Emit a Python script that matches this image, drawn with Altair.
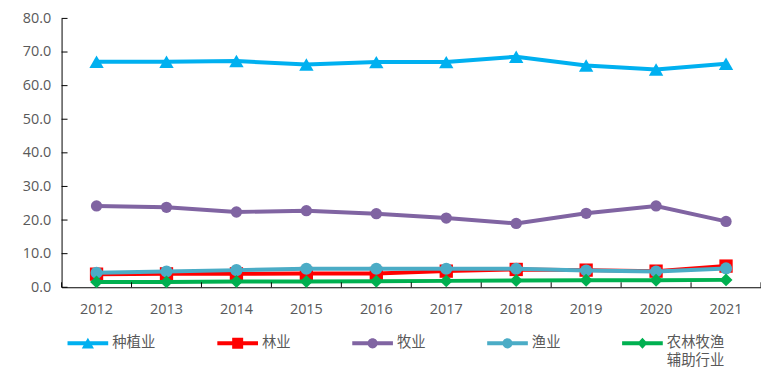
import altair as alt
import pandas as pd

years = ["2012", "2013", "2014", "2015", "2016", "2017", "2018", "2019", "2020", "2021"]
series = ["种植业", "林业", "牧业", "渔业", "农林牧渔辅助行业"]
colors = ["#00B0F0", "#FF0000", "#8064A2", "#4BACC6", "#00B050"]
shapes = ["triangle-up", "square", "circle", "circle", "diamond"]
sizes = [210, 180, 130, 150, 170]

planting = [67.1, 67.1, 67.3, 66.3, 67.0, 67.0, 68.6, 66.0, 64.8, 66.5]
forestry = [3.9, 4.0, 4.0, 4.1, 4.1, 4.8, 5.3, 5.1, 4.8, 6.3]
livestock = [24.2, 23.8, 22.4, 22.8, 21.9, 20.6, 19.0, 22.0, 24.2, 19.6]
fishery = [4.3, 4.7, 5.1, 5.5, 5.5, 5.5, 5.5, 5.0, 4.7, 5.6]
service = [1.6, 1.6, 1.7, 1.7, 1.8, 1.9, 2.0, 2.1, 2.1, 2.2]

y_ticks = [0, 10, 20, 30, 40, 50, 60, 70, 80]

values = [planting, forestry, livestock, fishery, service]
rows = []
for s, vals in zip(series, values):
    for y, v in zip(years, vals):
        rows.append({"year": y, "series": s, "value": v})
df = pd.DataFrame(rows)

W, H = 705, 271
FONT = "Open Sans"
CJK = "Noto Sans CJK SC"
GRAY = "#595959"

legend_paths = {
    "种植业": "M-1,-0.1H1V0.1H-1Z M-0.3,0.25L0,-0.27L0.3,0.25Z",
    "林业": "M-1,-0.1H1V0.1H-1Z M-0.27,-0.27H0.27V0.27H-0.27Z",
    "牧业": "M-1,-0.1H1V0.1H-1Z M-0.25,0A0.25,0.25 0 1,1 0.25,0A0.25,0.25 0 1,1 -0.25,0Z",
    "渔业": "M-1,-0.1H1V0.1H-1Z M-0.25,0A0.25,0.25 0 1,1 0.25,0A0.25,0.25 0 1,1 -0.25,0Z",
    "农林牧渔辅助行业": "M-1,-0.1H1V0.1H-1Z M0,-0.27L0.25,0L0,0.27L-0.25,0Z",
}
shape_expr = ""
for k, p in legend_paths.items():
    shape_expr += f"datum.value == '{k}' ? '{p}' : "
shape_expr += "'circle'"

legend = alt.Legend(
    title=None,
    orient="none",
    legendX=6,
    legendY=307,
    direction="horizontal",
    columns=5,
    columnPadding=62,
    symbolSize=1681,
    symbolStrokeWidth=0,
    symbolType={"expr": shape_expr},
    symbolFillColor={"expr": "scale('color', datum.value)"},
    symbolOpacity=1,
    labelOffset=4,
    labelFont=CJK,
    labelFontSize=14.5,
    labelColor=GRAY,
    labelLimit=300,
    labelBaseline="middle",
    padding=0,
    labelExpr="datum.label == '农林牧渔辅助行业' ? ['农林牧渔', '辅助行业'] : [datum.label, '']",
)

xscale = alt.Scale(type="band", domain=years, paddingInner=0, paddingOuter=0)
yscale = alt.Scale(domain=[0, 80], nice=False)
cscale = alt.Scale(domain=series, range=colors)
color = alt.Color("series:N", scale=cscale, legend=legend, sort=series)
color_nolegend = alt.Color("series:N", scale=cscale, legend=None, sort=series)

xaxis = alt.Axis(title=None, ticks=False, tickSize=0, labelFont=FONT, labelFontSize=14.5,
                 labelColor=GRAY, labelPadding=15, domainColor="#000000", labelAngle=0,
                 grid=False)
yaxis = alt.Axis(title=None, ticks=False, tickSize=0, values=y_ticks, format=".1f",
                 labelFont=FONT, labelFontSize=14.5, labelColor=GRAY, labelPadding=11,
                 domainColor="#000000", grid=False)

base = alt.Chart(df)
layers = []
for s, shp, sz in zip(series, shapes, sizes):
    sub = base.transform_filter(alt.datum.series == s)
    line = sub.mark_line(strokeWidth=4).encode(
        x=alt.X("year:O", scale=xscale, axis=xaxis, bandPosition=0.5),
        y=alt.Y("value:Q", scale=yscale, axis=yaxis),
        color=color,
    )
    pts = sub.mark_point(filled=True, opacity=1, shape=shp, size=sz).encode(
        x=alt.X("year:O", scale=xscale, axis=xaxis, bandPosition=0.5),
        y=alt.Y("value:Q", scale=yscale, axis=yaxis),
        color=color_nolegend,
    )
    layers += [line, pts]

ytick_df = pd.DataFrame({"t": y_ticks})
ytick_rules = alt.Chart(ytick_df).mark_rule(color="#000000", strokeWidth=1).encode(
    y=alt.Y("t:Q", scale=yscale, axis=yaxis),
    x=alt.value(0),
    x2=alt.value(6),
)
xtick_df = pd.DataFrame({"year": years})
xtick_rules = alt.Chart(xtick_df).mark_rule(color="#000000", strokeWidth=1).encode(
    x=alt.X("year:O", scale=xscale, axis=xaxis, bandPosition=0),
    y=alt.value(H - 5),
    y2=alt.value(H),
)
xtick_end = alt.Chart(pd.DataFrame({"year": [years[-1]]})).mark_rule(color="#000000", strokeWidth=1).encode(
    x=alt.X("year:O", scale=xscale, axis=xaxis, bandPosition=1),
    y=alt.value(H - 5),
    y2=alt.value(H),
)

chart = alt.layer(*layers, ytick_rules, xtick_rules, xtick_end).properties(
    width=W,
    height=H,
    autosize=alt.AutoSizeParams(type="none"),
    padding={"left": 54, "top": 9, "right": 0, "bottom": 95},
)
chart.config = alt.Config(
    view=alt.ViewConfig(stroke=None),
    axis=alt.AxisConfig(domainWidth=1),
    style={"guide-label": {"lineHeight": 18}},
)

chart.save("out.html", embed_options={"renderer": "svg", "actions": False})
